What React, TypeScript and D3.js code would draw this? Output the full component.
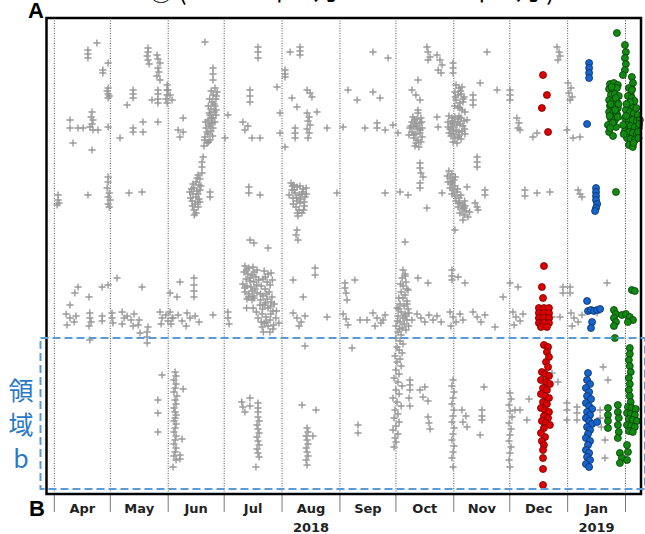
import React, { useEffect, useRef } from 'react'
import * as d3 from 'd3'

// x: days since 2018-04-01, y: relative position along the profile (0 = bottom)
const grayPoints: [number, number][] = [
  // Apr
  [22.8, 451], [18, 444], [18, 440], [18, 436], [26, 424], [26, 421], [28.8, 431],
  [28.8, 406], [28.3, 403], [28.8, 400], [29.4, 398], [28.8, 396],
  [8.4, 374], [8.4, 366], [12.7, 366], [15.4, 366],
  [20.2, 382], [19.7, 377], [20.7, 374], [20.2, 370], [19.1, 367], [20.7, 364], [23.4, 364],
  [10, 351], [20.2, 344], [28.8, 367],
  [2, 299], [2, 294], [2.5, 291], [1.5, 289], [18, 299],
  [28.8, 317], [28.8, 312], [28.3, 306], [29.4, 301], [28.8, 297], [29.9, 294], [28.8, 290], [29.4, 287],
  [33.6, 216], [28.8, 209], [25.6, 207], [12.7, 207], [11, 201], [18.6, 197], [8.4, 189],
  [6.3, 180], [8.4, 176], [10.6, 172], [6.8, 169], [11.6, 178],
  [19, 181], [19, 176], [19.7, 172], [18.6, 168],
  [25.6, 178], [25.6, 173], [30.9, 181], [30.9, 176], [31.4, 171],
  [19, 154],
  // May
  [35.2, 356], [39, 389], [42.2, 404], [42.2, 400], [42.2, 396], [42.2, 366], [42.2, 362],
  [47.5, 372], [47.5, 362],
  [50.2, 446], [50.2, 442], [49.7, 438], [50.2, 434], [50.8, 430],
  [55, 439], [55.5, 435], [56.6, 431], [55.5, 426], [56, 422], [55, 418], [56.6, 414],
  [52.3, 394], [55.5, 404], [55.5, 400], [55.5, 395], [55.5, 391], [55.5, 372],
  [60.4, 409], [60.4, 404], [60.4, 399], [59.8, 395], [60.4, 391],
  [40, 301], [47, 302], [47, 207],
  [36.3, 182], [37.4, 176], [36.3, 170], [39, 178], [41.1, 174], [42.7, 180], [42.2, 168], [45.4, 174], [44.9, 169],
  [50.2, 167],
  [56.6, 182], [57.7, 176], [57.2, 170], [59.8, 179], [60.9, 173], [63.1, 176],
  [49.7, 162], [49.7, 157], [49.7, 151], [45.9, 161],
  [57.7, 119], [55.5, 94], [55.5, 81], [55.5, 62],
  // Jun
  [60.9, 404], [62, 399], [63.1, 394], [69, 376], [66.3, 364], [69, 362], [67.3, 357],
  [80.7, 452], [85, 426], [85, 420], [85, 414],
  [86.1, 406], [87.2, 402], [85, 399], [86.6, 395], [84.5, 392], [86.1, 388], [83.9, 385], [85.6, 382],
  [83.4, 379], [85, 376], [82.3, 374], [84.5, 371], [82.9, 368], [81.3, 366], [83.9, 363], [82.3, 360],
  [80.7, 357], [83.4, 354], [81.8, 351], [80.2, 348], [85, 366], [86.6, 379], [83.4, 370], [81.8, 362],
  [84, 403], [86.8, 398], [83.2, 395], [85.5, 390], [82.5, 388], [84.3, 376], [86, 372], [81, 372],
  [84.8, 358], [82.6, 352], [80.5, 354], [86.6, 384], [83, 381],
  [79.7, 337], [79.1, 332], [79.1, 327], [79.1, 321],
  [77, 319], [78, 315], [75.9, 312], [77.5, 309], [74.8, 306], [76.4, 303], [74.3, 300], [75.9, 297],
  [77.5, 295], [73.8, 293], [75.4, 290], [77, 287], [74.8, 284], [75.9, 281], [78, 304], [74.3, 310],
  [76.5, 316], [78.5, 308], [73.5, 305], [77, 300], [73, 296], [78, 292], [74, 288], [76.8, 292], [75, 279], [72.5, 302],
  [83.4, 302], [83.4, 297],
  [67.3, 212], [74.8, 216], [74.8, 209], [74.8, 203], [74.8, 197], [62, 201], [65.7, 197],
  [62, 182], [63.6, 176], [62.5, 170], [66.3, 179], [68.4, 173], [71.1, 181], [72.7, 176], [70.6, 168],
  [75.4, 178], [77.5, 172], [85, 179], [93, 379], [91.4, 356],
  [64.7, 122], [65.2, 118], [64.1, 114], [65.2, 110], [64.7, 106], [64.1, 102], [65.7, 98], [64.7, 94],
  [65.2, 90], [64.1, 86], [64.7, 82], [65.2, 79], [64.7, 76], [64.1, 73], [65.2, 70], [64.7, 66],
  [64.1, 62], [65.2, 58], [64.7, 54], [64.1, 50], [65.2, 46], [64.7, 42], [64.1, 38], [65.2, 34],
  [63.6, 27], [69, 105], [68.4, 55], [67.3, 39], [67.3, 35],
  // Jul
  [109.1, 447], [109.1, 442], [109.1, 436], [104.8, 404], [104.8, 398], [104.8, 392],
  [101, 372], [103.7, 368], [102.1, 364], [105.9, 356], [110.2, 356],
  [119.3, 407], [120.9, 381], [120.9, 361],
  [104.2, 307], [104.2, 301], [110.2, 299], [104.8, 254], [106.9, 251], [114.5, 246],
  [102.1, 228], [104.2, 226], [106.4, 227], [108.6, 224], [101.6, 222], [103.7, 220], [105.9, 219],
  [108, 217], [102.7, 215], [104.8, 213], [106.9, 212], [101, 210], [103.2, 208], [105.3, 207],
  [107.5, 205], [102.1, 202], [104.2, 200], [106.4, 198], [108.6, 201], [103.2, 195], [105.9, 194],
  [112.4, 223], [114.5, 220], [116.1, 221], [111.8, 215], [114, 212], [115.6, 209], [112.9, 205],
  [115.1, 202], [111.8, 198], [114, 195], [116.1, 192], [112.4, 189], [114.5, 186], [117.1, 183],
  [111.3, 180], [113.4, 177], [115.6, 174], [112.4, 171], [114.5, 168], [117.1, 165], [110.2, 189],
  [109.1, 176], [111.3, 167], [118.7, 176], [120.3, 171],
  [103, 224], [107, 222], [105, 216], [109.5, 214], [102, 206], [106, 203], [108.5, 209], [104, 197],
  [107, 196], [110.5, 200], [113, 217], [116.8, 214], [110.8, 208], [113.6, 200], [116.6, 197],
  [110.5, 194], [113, 191], [115.8, 188], [117.8, 190], [111.5, 185], [116, 180], [110.8, 172],
  [113.5, 172], [117.5, 169], [115.5, 162], [112, 162], [106.5, 186], [108.2, 182], [119, 183], [103, 186],
  [93, 182], [93, 176], [93.6, 170],
  [100.4, 92], [101, 87], [102.1, 82], [104.8, 96], [104.8, 88], [109.1, 91], [109.1, 86], [109.1, 82],
  [109.1, 77], [109.7, 73], [108.6, 69], [109.1, 65], [109.7, 61], [108.6, 57], [109.1, 53],
  [109.7, 49], [108.6, 45], [109.1, 41], [109.7, 37], [108, 27],
  // Aug
  [126.3, 442], [131.6, 447], [131.6, 443], [131.6, 439], [123.6, 424], [123.6, 420], [123.6, 417],
  [123.6, 347], [127.3, 396], [130, 387], [135.4, 404], [137, 401], [138, 397], [140.7, 382],
  [135.4, 381], [136.5, 377], [135.9, 373], [137, 369], [135.4, 365], [136.5, 361], [135.9, 356],
  [129, 366], [129, 361], [129, 356], [146.1, 366],
  [126.8, 311], [128.4, 309], [130, 307], [131.6, 308], [133.3, 305], [134.9, 306], [127.3, 304],
  [129, 301], [131.1, 299], [132.7, 300], [134.3, 297], [127.9, 296], [130, 293], [131.6, 291],
  [133.8, 292], [129.5, 287], [131.1, 284], [132.7, 281], [130.5, 278], [125.8, 299],
  [128.5, 304], [133, 302], [129.8, 296], [135, 300], [128, 290], [134, 288], [127.5, 308], [132, 295],
  [130.2, 281], [133.5, 284],
  [130, 264], [129.5, 259], [130.5, 254], [139.7, 226], [139.7, 219], [127.9, 214], [133.3, 197],
  [127.9, 181], [130, 176], [132.2, 172], [134.3, 178], [131.1, 168], [146.1, 177], [151.4, 301],
  [134.3, 148], [132.7, 89], [140.2, 84],
  [135.4, 66], [135.9, 62], [134.9, 58], [135.4, 54], [135.9, 50], [134.9, 46], [135.4, 42],
  [135.9, 38], [134.9, 34], [135.4, 29], [138.5, 58],
  // Sep
  [170.7, 442], [178.8, 436], [157.3, 404], [162.2, 394], [170.7, 402], [174.5, 396],
  [154.7, 367], [166.4, 366], [172.9, 371], [172.9, 366], [177.2, 364], [181.4, 369], [177.2, 301],
  [155.7, 211], [155.7, 206], [156.3, 201], [161, 214], [156.8, 194],
  [154.7, 180], [156.3, 175], [157.3, 169], [163.8, 174], [167.5, 174],
  [170.7, 181], [172.9, 176], [175, 171], [177.2, 179], [171.8, 168], [176.1, 174],
  [159.5, 146], [162.7, 69], [162.7, 61],
  // Oct
  [184.1, 361], [185.2, 302], [189.5, 299], [191.6, 404], [193.7, 399], [195.9, 394], [194.8, 414],
  [194.8, 384], [194.8, 381], [199.6, 447], [200.2, 442], [201.3, 437], [200.2, 434],
  [205, 439], [206.6, 434], [207.7, 429], [205.6, 424], [207.2, 421],
  [192.1, 377], [194.3, 375], [196.4, 376], [191.6, 372], [193.7, 370], [195.9, 371], [192.6, 367],
  [194.8, 365], [197, 366], [191.6, 362], [193.7, 360], [195.9, 361], [192.6, 356], [194.8, 354],
  [196.4, 352], [193.2, 348], [195.3, 347], [190.5, 366],
  [193, 374], [196.8, 372], [191, 368], [194, 368], [196, 364], [192.5, 359], [197, 357], [193.8, 351], [190, 359],
  [205, 377], [205.6, 367], [195.9, 331], [195.9, 326], [196.4, 321], [197.5, 317], [195.9, 311],
  [195.9, 306], [199.6, 286], [207.7, 301], [187.9, 252], [194.8, 216], [200.2, 211],
  [186.8, 224], [187.9, 220], [186.3, 216], [188.4, 212], [186.8, 208], [188.9, 205], [185.8, 202],
  [187.9, 199], [186.8, 196], [188.9, 193], [185.2, 190], [187.4, 188], [189.5, 185], [185.8, 182],
  [187.9, 180], [184.1, 178], [186.8, 176], [188.9, 174], [185.2, 172], [187.4, 170], [183, 168],
  [186.3, 166], [188.4, 164], [190, 181], [183.6, 186],
  [188, 218], [185.5, 210], [189.5, 204], [184.6, 196], [189, 190], [184.5, 185], [188.2, 178],
  [183.8, 173], [189.8, 168], [185, 165],
  [194.3, 180], [196.4, 176], [198.5, 172], [200.7, 179], [202.9, 174], [205, 178], [207.2, 172], [191.6, 174],
  [213.6, 431], [213.6, 426], [213.6, 421],
  [184.1, 162], [185.8, 159], [183, 156], [185.2, 153], [186.8, 150], [183.6, 147], [184.7, 144],
  [186.3, 141], [182.5, 138], [185.2, 135], [183.6, 132], [185.8, 128], [183, 124], [184.7, 120],
  [182, 116], [184.1, 112], [186.3, 108], [183, 104], [184.7, 100], [181.4, 96], [183.6, 92],
  [185.8, 88], [182.5, 84], [184.1, 80], [182, 76], [184.7, 72], [183, 68], [181.4, 64],
  [184.1, 60], [182.5, 56], [183, 52], [182, 47],
  [190.5, 114], [190.5, 109], [190.5, 104], [190, 96], [190.5, 88],
  [195.9, 104], [198.5, 107], [197.5, 97], [200.2, 93], [200.2, 77], [200.7, 71], [201.3, 65],
  // Nov
  [215.2, 409], [216.8, 406], [218.4, 407], [214.6, 402], [216.3, 399], [217.9, 400], [219.5, 397],
  [215.2, 394], [217.3, 391], [218.9, 392], [216.3, 387], [218.4, 384], [220, 382], [216.8, 378],
  [217.6, 403], [214.8, 397], [219, 395], [217.2, 386], [214.5, 388],
  [224.3, 399], [224.3, 394], [224.3, 389], [228.1, 411], [237.2, 404], [231.8, 442],
  [211.4, 378], [213, 376], [214.6, 377], [216.3, 375], [217.9, 376], [210.9, 372], [212.5, 370],
  [214.1, 371], [215.7, 369], [217.3, 370], [218.9, 368], [212, 365], [213.6, 363], [215.2, 364],
  [216.8, 362], [218.4, 363], [212.5, 358], [214.6, 356], [216.3, 357], [217.9, 355], [213.6, 352], [215.7, 351],
  [213.4, 373], [216, 372], [219.5, 373], [211, 367], [213.2, 367], [219.8, 365], [211.5, 361],
  [220, 360], [214, 360], [217, 359],
  [221.1, 374], [226.5, 337], [226.5, 332], [226.5, 327],
  [211.4, 323], [213, 320], [212, 316], [214.1, 314], [212.5, 310], [214.6, 308], [213.6, 304],
  [215.7, 302], [214.6, 298], [216.8, 296], [215.2, 293], [217.3, 291], [218.9, 289], [216.3, 287],
  [218.4, 285], [220.5, 283], [217.3, 281], [219.5, 279], [221.6, 277], [218.9, 274], [221.1, 307], [210.9, 312],
  [214.8, 317], [210.5, 318], [213.2, 312], [216, 305], [212, 306], [217.8, 299], [213, 300],
  [219.8, 293], [216.5, 291], [220, 288], [222.5, 282], [219.5, 286],
  [225.4, 291], [226.5, 287], [227, 284], [230.7, 304], [230.7, 299], [214.6, 264],
  [213, 224], [213, 218], [213, 214], [216.3, 217], [220, 211],
  [212, 182], [213.6, 177], [215.2, 172], [217.3, 180], [218.9, 174], [212.5, 168],
  [224.3, 182], [226.5, 177], [228.6, 172], [230.7, 179], [236.1, 167], [240.4, 197],
  [213.6, 114], [213, 108], [214.1, 102], [213.6, 96], [213, 90], [214.1, 84], [213.6, 78],
  [213, 72], [214.1, 66], [213.6, 60], [213, 54], [214.1, 48], [213.6, 42], [213, 36], [213.6, 27],
  [218.4, 84], [220.5, 78], [218.9, 72], [221.1, 67], [229.1, 84], [229.1, 78], [229.1, 74],
  [228.1, 59], [230.2, 107],
  // Dec
  [244.1, 404], [244.1, 399], [244.1, 394], [247.8, 376], [248.9, 371], [248.4, 366], [249.5, 364],
  [256.4, 357], [258.6, 361], [269.3, 447], [270.4, 442], [270.9, 438], [269.8, 434],
  [252.1, 304], [252.1, 298], [258.6, 301], [265.5, 302], [244.1, 211], [248.4, 207],
  [245.7, 182], [247.3, 177], [249.5, 173], [251.1, 180], [246.3, 169],
  [272.5, 207], [272.5, 201], [270.9, 177], [266.6, 177], [274.6, 364],
  [244.1, 101], [244.7, 95], [243.6, 89], [244.1, 83], [245.2, 77], [243.6, 71], [244.7, 65],
  [244.1, 59], [243.6, 53], [244.7, 47], [244.1, 41], [243.6, 34], [244.1, 27],
  [246.8, 84], [249.5, 84], [254.3, 95], [253.2, 74], [266.6, 121], [269.8, 112],
  [274.6, 91], [274.6, 84], [274.6, 74],
  // Jan
  [275.2, 411], [276.8, 406], [275.7, 401], [277.4, 397], [276.3, 394], [277.9, 356], [281.6, 357],
  [280.6, 304], [281.6, 300], [282.7, 297], [276.3, 207], [276.3, 201],
  [276.8, 181], [278.4, 176], [280.6, 172], [282.7, 179], [277.4, 168], [296.1, 211], [290.8, 181],
  [280, 87], [280, 81], [280, 74], [292.4, 84], [292.4, 76], [293, 67], [294, 127], [296.6, 114],
  [295, 54], [295, 36],
]

const redPoints: [number, number][] = [
  [261.8, 419], [263.9, 399], [261.2, 386], [264.5, 362], [262.3, 228], [261.2, 207], [261.8, 196],
  [259.6, 186], [262.3, 186], [265, 186], [259.6, 181], [262.3, 181], [265, 181],
  [259.6, 176], [262.3, 176], [265, 176], [259.6, 171], [262.3, 171], [265, 171], [260.7, 167], [263.9, 167],
  [262.3, 149], [264.5, 147], [263.9, 142], [265, 137], [263.4, 132], [264.5, 127], [261.2, 122],
  [262.9, 120], [265, 118], [260.7, 114], [263.4, 112], [265.5, 110], [261.8, 106], [263.9, 104],
  [260.7, 100], [262.9, 98], [265, 96], [261.8, 92], [263.9, 90], [260.7, 86], [262.9, 84],
  [265, 82], [262.3, 78], [264.5, 76], [261.2, 73], [263.4, 71], [265.5, 69], [262.3, 66],
  [260.7, 61], [262.9, 57], [261.2, 53], [262.3, 49], [261.8, 44], [261.8, 36], [261.8, 25], [261.8, 9],
]

const bluePoints: [number, number][] = [
  [286.5, 431], [286.5, 426], [286.5, 421], [286.5, 416], [285.4, 370],
  [290.2, 306], [290.2, 302], [290.2, 298], [290.2, 294], [290.8, 290], [290.2, 286], [289.7, 283],
  [285.4, 193], [285.9, 183], [287.5, 184], [289.1, 183], [290.8, 184], [292.4, 185], [288.1, 172], [287.5, 166],
  [285.9, 121], [285.4, 114], [287, 110], [284.8, 106], [286.5, 102], [285.4, 98], [287.5, 95],
  [284.8, 91], [286.5, 88], [288.1, 85], [285.4, 82], [287, 79], [284.8, 76], [286.5, 73],
  [288.1, 70], [285.4, 67], [287, 64], [285.9, 60], [284.8, 56], [287, 53], [285.9, 49],
  [284.8, 44], [286.5, 41], [285.4, 37], [287, 34], [284.8, 30], [286.5, 27], [290.8, 72],
]

const greenPoints: [number, number][] = [
  [301.4, 461], [305.7, 449], [306.2, 442], [305.7, 436], [306.2, 430], [305.7, 424], [304.6, 419],
  [309.4, 417], [310, 411], [309.4, 405], [308.8, 399],
  [297.7, 410], [299.8, 411], [301.9, 409], [297.2, 405], [299.3, 404], [301.4, 406], [298.2, 399],
  [300.3, 400], [302.4, 398], [297.2, 394], [299.3, 393], [301.4, 392], [297.7, 388], [299.8, 387],
  [301.9, 386], [297.2, 382], [299.3, 381], [301.4, 380], [298.2, 375], [300.3, 374], [296.6, 369],
  [298.8, 368], [300.9, 367], [297.2, 362], [299.3, 358],
  [298.5, 407], [300.8, 396], [298, 390], [302.2, 390], [300.5, 384], [297.5, 378], [301.9, 377],
  [299.2, 371], [297.8, 366],
  [307.8, 406], [309.4, 404], [307.3, 398], [309.4, 396], [307.8, 390], [309.9, 388], [306.2, 384],
  [308.3, 382], [310.5, 381], [312.6, 379], [305.7, 376], [307.8, 375], [309.9, 374], [312.1, 373],
  [306.8, 369], [308.8, 368], [311, 367], [313.1, 366], [305.7, 363], [307.8, 362], [309.9, 361],
  [312.1, 360], [306.8, 356], [308.8, 355], [311, 354], [307.8, 349], [309.9, 347], [304.7, 369], [313.7, 374],
  [310.8, 393], [308.5, 392], [306.5, 390], [311.8, 386], [306.3, 378], [313.4, 370], [312.8, 362],
  [305, 360], [313, 356], [310.3, 351],
  [300.9, 302], [309.4, 204], [311, 203],
  [299.8, 184], [300.9, 180], [299.8, 176], [300.9, 172], [299.8, 168],
  [304.1, 179], [306.2, 180], [308.3, 177], [310, 174], [307.3, 172],
  [300.3, 156], [296.6, 86], [296.6, 79], [296.6, 73], [296.6, 66],
  [301.9, 89], [301.9, 82], [302.4, 76], [301.9, 69], [302.4, 62], [301.9, 56],
  [303, 41], [304.1, 36], [303, 31],
  [308.3, 146], [308.3, 140], [307.8, 134], [308.3, 128], [308.8, 122], [307.8, 116], [308.3, 110],
  [307.8, 104], [308.3, 98], [308.8, 92],
  [307.3, 87], [309.4, 86], [311.5, 85], [306.8, 81], [308.8, 80], [311, 79], [307.8, 75],
  [309.9, 74], [312.1, 73], [306.8, 69], [308.8, 68], [311, 67], [307.8, 63], [309.9, 62],
  [306.8, 49], [307.3, 42], [306.8, 34],
]

const monthLabels = ['Apr', 'May', 'Jun', 'Jul', 'Aug', 'Sep', 'Oct', 'Nov', 'Dec', 'Jan']
const yearLabels: [string, string][] = [['Aug', '2018'], ['Jan', '2019']]
const regionB = { label: ['領', '域', 'b'], from: 5, to: 156 }
const title = '①(2018年4月 ～ 2019年1月)'

const start = new Date(2018, 3, 1)
const toDate = (d: number) => new Date(start.getTime() + d * 864e5)

export default function App() {
  const svgRef = useRef<SVGSVGElement>(null)

  useEffect(() => {
    const width = 645
    const height = 534
    const left = 46.5
    const right = 641
    const top = 18
    const bottom = 494

    const svg = d3.select(svgRef.current)
    svg.selectAll('*').remove()

    const x = d3.scaleTime().domain([toDate(-4.2), toDate(314.3)]).range([left, right])
    const y = d3.scaleLinear().domain([0, 476]).range([bottom, top])

    // title, mostly above the picture edge like in the original
    svg.append('text')
      .attr('x', 148).attr('y', 0)
      .attr('textLength', 407)
      .style('font-family', 'Noto Sans CJK JP')
      .style('font-size', '26px')
      .text(title)

    const months = d3.timeMonth.range(new Date(2018, 3, 1), new Date(2019, 1, 2))

    // month dividers
    svg.append('g').selectAll('line').data(months).enter().append('line')
      .attr('x1', (d) => x(d)).attr('x2', (d) => x(d))
      .attr('y1', top).attr('y2', bottom)
      .attr('stroke', '#555').attr('stroke-width', 1)
      .attr('stroke-dasharray', '1 1.5')

    // ticks under the frame
    svg.append('g').selectAll('line').data(months).enter().append('line')
      .attr('x1', (d) => x(d)).attr('x2', (d) => x(d))
      .attr('y1', bottom).attr('y2', bottom + 18)
      .attr('stroke', '#777').attr('stroke-width', 1)

    // month labels
    const mid = (i: number) => x(new Date((months[i].getTime() + months[i + 1].getTime()) / 2))
    svg.append('g').selectAll('text').data(monthLabels).enter().append('text')
      .attr('x', (d, i) => mid(i)).attr('y', 513)
      .attr('text-anchor', 'middle')
      .style('font-family', 'DejaVu Sans').style('font-size', '13px').style('font-weight', 'bold')
      .attr('fill', '#222')
      .text((d) => d)
    svg.append('g').selectAll('text').data(yearLabels).enter().append('text')
      .attr('x', (d) => mid(monthLabels.indexOf(d[0]))).attr('y', 532)
      .attr('text-anchor', 'middle')
      .style('font-family', 'DejaVu Sans').style('font-size', '13px').style('font-weight', 'bold')
      .attr('fill', '#222')
      .text((d) => d[1])

    // gray crosses
    svg.append('g').selectAll('path').data(grayPoints).enter().append('path')
      .attr('transform', (d) => `translate(${x(toDate(d[0]))},${y(d[1])})`)
      .attr('d', 'M-3.6,0H3.6M0,-3.6V3.6')
      .attr('stroke', '#999').attr('stroke-width', 1.4).attr('fill', 'none')

    const dots = (data: [number, number][], fill: string, stroke: string) => {
      svg.append('g').selectAll('circle').data(data).enter().append('circle')
        .attr('cx', (d) => x(toDate(d[0]))).attr('cy', (d) => y(d[1]))
        .attr('r', 3.5)
        .attr('fill', fill).attr('stroke', stroke).attr('stroke-width', 0.8)
    }
    dots(redPoints, '#e00000', '#700000')
    dots(bluePoints, '#1565d0', '#0a2e66')
    dots(greenPoints, '#118a11', '#073d07')

    // frame
    svg.append('rect')
      .attr('x', left).attr('y', top)
      .attr('width', right - left).attr('height', bottom - top)
      .attr('fill', 'none').attr('stroke', '#000').attr('stroke-width', 2.5)

    // region b box
    svg.append('rect')
      .attr('x', left - 6).attr('y', y(regionB.to))
      .attr('width', width - left + 6).attr('height', y(regionB.from) - y(regionB.to))
      .attr('fill', 'none').attr('stroke', '#5b9bd5').attr('stroke-width', 2)
      .attr('stroke-dasharray', '8 4')

    svg.append('g').selectAll('text').data(regionB.label).enter().append('text')
      .attr('x', 21).attr('y', (d, i) => 389 + i * 34)
      .attr('text-anchor', 'middle').attr('dominant-baseline', 'central')
      .style('font-family', 'Noto Sans CJK JP').style('font-size', '25px')
      .attr('fill', '#2a78c6')
      .text((d) => d)

    // panel letters
    svg.append('text').attr('x', 28).attr('y', 18)
      .style('font-family', 'Liberation Sans').style('font-weight', 'bold').style('font-size', '22px')
      .text('A')
    svg.append('text').attr('x', 29).attr('y', 516)
      .style('font-family', 'Liberation Sans').style('font-weight', 'bold').style('font-size', '22px')
      .text('B')

    svg.attr('width', width).attr('height', height)
  }, [])

  return <svg ref={svgRef} width="645" height="534" style={{ position: 'absolute', left: 0, top: 0 }}></svg>
}
